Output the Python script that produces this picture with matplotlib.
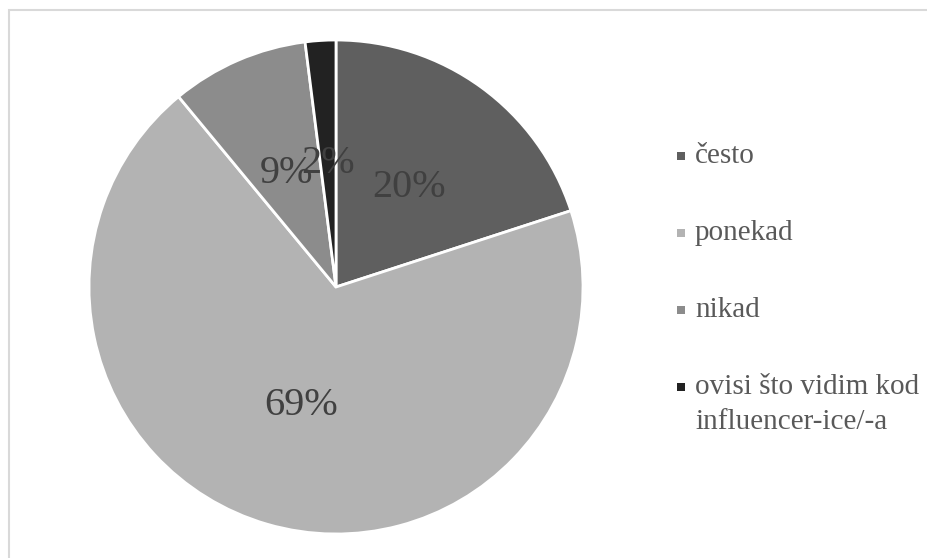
import matplotlib.pyplot as plt
from matplotlib.patches import Rectangle

plt.rcParams['font.family'] = ['Liberation Serif', 'DejaVu Serif']

labels = ['često', 'ponekad', 'nikad', 'ovisi što vidim kod\ninfluencer-ice/-a']
values = [20, 69, 9, 2]
colors = ['#5f5f5f', '#b3b3b3', '#8c8c8c', '#222222']

W, H = 928, 558
fig = plt.figure(figsize=(W / 100, H / 100), dpi=100)

# light gray frame around the chart area
fig.patches.append(Rectangle((9 / W, -0.1), 1.2, 0.1 + (H - 10) / H, transform=fig.transFigure,
                             fill=False, edgecolor='#d9d9d9', linewidth=1.5))

ax = fig.add_axes([89 / W, 24 / H, 494 / W, 494 / H])
wedges, texts, autotexts = ax.pie(values, colors=colors, startangle=90, counterclock=False,
                                  autopct='%1.0f%%', pctdistance=0.5,
                                  wedgeprops={'edgecolor': 'white', 'linewidth': 2},
                                  textprops={'fontsize': 29, 'color': '#404040'})
ax.set_xlim(-1, 1)
ax.set_ylim(-1, 1)
ax.set_aspect('equal')

# legend drawn by hand so the marker sits on the first line of a wrapped label
for i, (lab, w) in enumerate(zip(labels, wedges)):
    base = 163 + i * 77
    fig.patches.append(Rectangle((677 / W, 1 - (base - 3) / H), 8 / W, 8 / H,
                                 transform=fig.transFigure, facecolor=w.get_facecolor(),
                                 edgecolor='none'))
    lines = lab.split('\n')
    for j, line in enumerate(lines):
        fig.text(695 / W, 1 - (base + j * 35) / H, line, fontsize=21, color='#595959',
                 va='baseline', ha='left')

fig.savefig('out.png', dpi=100)
